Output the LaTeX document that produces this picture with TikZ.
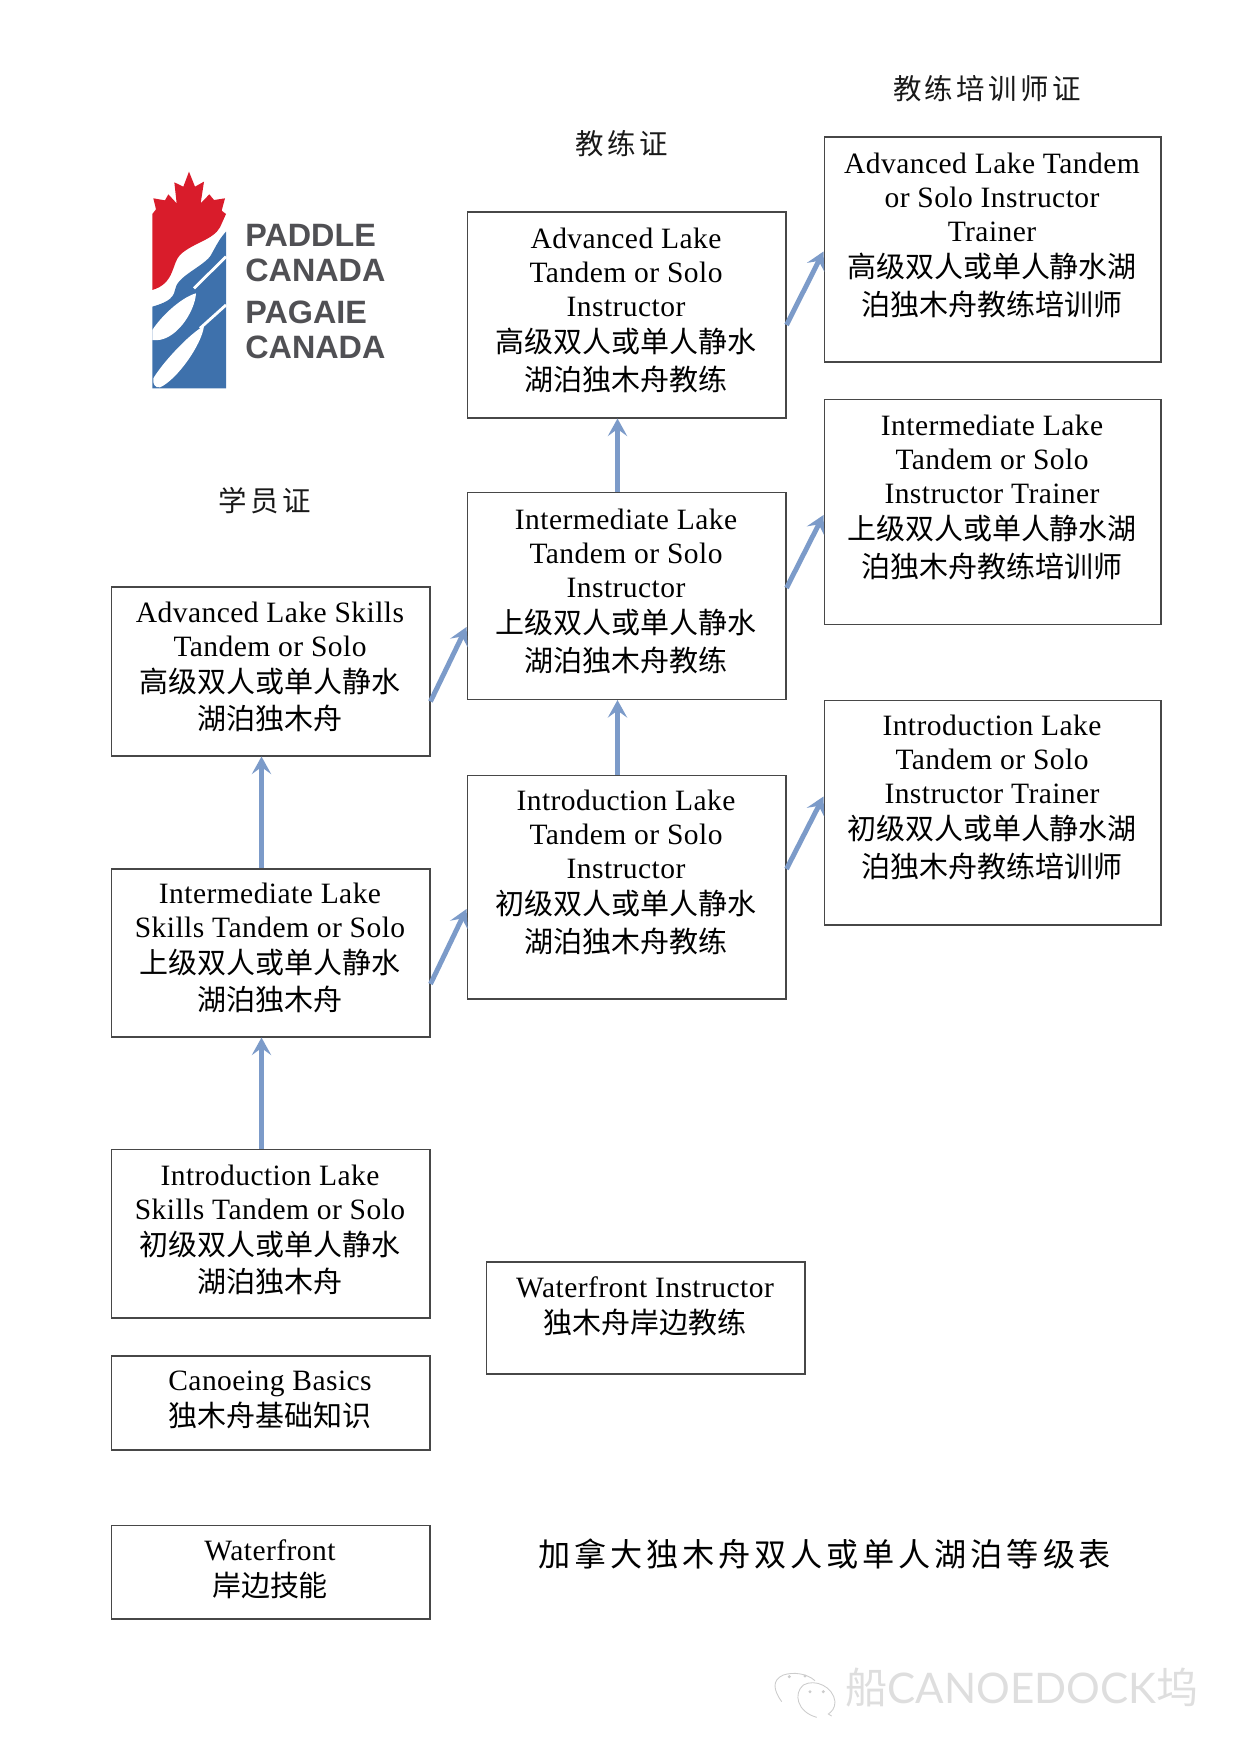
\documentclass[tikz,border=0pt]{standalone}
\usepackage{fontspec}
\setmainfont{Liberation Serif}[LetterSpace=1.5]
\setsansfont{Liberation Sans}
\newfontfamily\cjk{Noto Sans CJK SC}
\newfontfamily\cjkwide{Noto Sans CJK SC}[LetterSpace=12]
\newfontfamily\markfont{Lato}
\usetikzlibrary{arrows.meta,calc}
\newcommand{\zh}[1]{{\cjk\fontsize{16.5}{21.5}\selectfont #1}}
\definecolor{flowblue}{RGB}{124,155,201}
\definecolor{logored}{RGB}{217,28,43}
\definecolor{logoblue}{RGB}{62,113,172}
\definecolor{logogray}{RGB}{80,80,84}
\tikzset{
  coursebox/.style={draw=black!72,line width=0.6pt,inner sep=0pt},
  leftbox/.style={coursebox,minimum width=6.38cm},
  rightbox/.style={coursebox,minimum width=6.74cm,minimum height=4.5cm},
  coursetext/.style={align=center,inner sep=0pt,font=\fontsize{16.8}{19.4}\selectfont},
  headtext/.style={inner sep=0pt,font=\cjkwide\fontsize{16.2}{18}\selectfont,text=black!90},
  logotext/.style={anchor=west,inner sep=0pt,font=\sffamily\bfseries\fontsize{18.4}{20}\selectfont,text=logogray},
  flowarrow/.style={-{Stealth[length=10pt,width=11pt,inset=4pt]},flowblue,line width=2.8pt}
}
\begin{document}
\begin{tikzpicture}[x=0.02cm,y=-0.02cm]
\useasboundingbox (0,0) rectangle (1240,1753);

% logo
\begin{scope}[shift={(120,140)},scale=1/3]
\fill[logored] (97,450) -- (97,222) -- (108,208) -- (100,175) -- (135,181) -- (145,163) -- (170,190)
  -- (163,127) -- (190,140) -- (207,95) -- (225,140) -- (252,125) -- (242,190) -- (268,163)
  -- (282,180) -- (315,175) -- (305,212) -- (318,222) -- (300,262)
  .. controls (280,300) and (215,310) .. (180,345)
  .. controls (155,370) and (165,430) .. (97,450) -- cycle;
\fill[logoblue] (318,275) -- (318,745) -- (97,745) -- (97,500)
  .. controls (130,490) and (160,480) .. (165,450)
  .. controls (170,410) and (240,385) .. (270,350)
  .. controls (285,325) and (295,300) .. (318,275) -- cycle;
\draw[white,line width=1.6pt] (318,350) -- (222,445);
\draw[white,line width=1.6pt] (318,495) -- (240,565);
\fill[white] (97,570) .. controls (130,520) and (190,470) .. (228,460)
  .. controls (225,515) and (165,610) .. (97,600) -- cycle;
\fill[white] (100,715) .. controls (130,665) and (210,580) .. (252,558)
  .. controls (245,615) and (170,720) .. (120,742)
  .. controls (105,745) and (97,730) .. (100,715) -- cycle;
\end{scope}
\node[logotext] (paddle) at (245,235) {PADDLE};
\node[logotext] (canadaen) at (245,270) {CANADA};
\node[logotext] (pagaie) at (245,312) {PAGAIE};
\node[logotext] (canadafr) at (245,347) {CANADA};

% column headings
\node[headtext] (headtrainer) at (987,89) {教练培训师证};
\node[headtext] (headinstr) at (622,144) {教练证};
\node[headtext] (headstudent) at (265,501) {学员证};

% student column
\node[leftbox,minimum height=3.38cm] (advskills) at (270.5,671.5) {};
\node[leftbox,minimum height=3.36cm] (interskills) at (270.5,953) {};
\node[leftbox,minimum height=3.38cm] (introskills) at (270.5,1233.5) {};
\node[leftbox,minimum height=1.88cm] (basics) at (270.5,1403) {};
\node[leftbox,minimum height=1.88cm] (waterfront) at (270.5,1572) {};

\node[coursetext] (advskillstext) at (270,667) {Advanced Lake Skills\\Tandem or Solo\\[1.2pt]\zh{高级双人或单人静水}\\[2pt]\zh{湖泊独木舟}};
\node[coursetext] (interskillstext) at (270,948) {Intermediate Lake\\Skills Tandem or Solo\\[1.2pt]\zh{上级双人或单人静水}\\[2pt]\zh{湖泊独木舟}};
\node[coursetext] (introskillstext) at (270,1230) {Introduction Lake\\Skills Tandem or Solo\\[1.2pt]\zh{初级双人或单人静水}\\[2pt]\zh{湖泊独木舟}};
\node[coursetext] (basicstext) at (270,1400) {Canoeing Basics\\[1.2pt]\zh{独木舟基础知识}};
\node[coursetext] (waterfronttext) at (270,1569) {Waterfront\\[1.2pt]\zh{岸边技能}};

% instructor column
\node[leftbox,minimum height=4.12cm] (advinstr) at (626.5,315) {};
\node[leftbox,minimum height=4.14cm] (interinstr) at (626.5,596) {};
\node[leftbox,minimum height=4.48cm] (introinstr) at (626.5,887) {};
\node[leftbox,minimum height=2.24cm] (waterinstr) at (645.5,1318) {};

\node[coursetext] (advinstrtext) at (626,310) {Advanced Lake\\Tandem or Solo\\Instructor\\[1.2pt]\zh{高级双人或单人静水}\\[2pt]\zh{湖泊独木舟教练}};
\node[coursetext] (interinstrtext) at (626,591) {Intermediate Lake\\Tandem or Solo\\Instructor\\[1.2pt]\zh{上级双人或单人静水}\\[2pt]\zh{湖泊独木舟教练}};
\node[coursetext] (introinstrtext) at (626,872) {Introduction Lake\\Tandem or Solo\\Instructor\\[1.2pt]\zh{初级双人或单人静水}\\[2pt]\zh{湖泊独木舟教练}};
\node[coursetext] (waterinstrtext) at (645,1306) {Waterfront Instructor\\[1.2pt]\zh{独木舟岸边教练}};

% trainer column
\node[rightbox] (advtrainer) at (992.5,249.5) {};
\node[rightbox] (intertrainer) at (992.5,512) {};
\node[rightbox] (introtrainer) at (992.5,812.5) {};

\node[coursetext] (advtrainertext) at (992,235) {Advanced Lake Tandem\\or Solo Instructor\\Trainer\\[1.2pt]\zh{高级双人或单人静水湖}\\[2pt]\zh{泊独木舟教练培训师}};
\node[coursetext] (intertrainertext) at (992,497) {Intermediate Lake\\Tandem or Solo\\Instructor Trainer\\[1.2pt]\zh{上级双人或单人静水湖}\\[2pt]\zh{泊独木舟教练培训师}};
\node[coursetext] (introtrainertext) at (992,797) {Introduction Lake\\Tandem or Solo\\Instructor Trainer\\[1.2pt]\zh{初级双人或单人静水湖}\\[2pt]\zh{泊独木舟教练培训师}};

% progression arrows
\draw[flowarrow] ($(introskills.north)+(-9,0)$) -- ($(interskills.south)+(-9,0)$);
\draw[flowarrow] ($(interskills.north)+(-9,0)$) -- ($(advskills.south)+(-9,0)$);
\draw[flowarrow] ($(introinstr.north)+(-9,0)$) -- ($(interinstr.south)+(-9,0)$);
\draw[flowarrow] ($(interinstr.north)+(-9,0)$) -- ($(advinstr.south)+(-9,0)$);
\draw[flowarrow] ($(advskills.east)+(0,30)$) -- ($(interinstr.west)+(0,31)$);
\draw[flowarrow] ($(interskills.east)+(0,31)$) -- ($(introinstr.west)+(0,22)$);
\draw[flowarrow] ($(advinstr.east)+(0,10)$) -- ($(advtrainer.west)+(0,2)$);
\draw[flowarrow] ($(interinstr.east)+(0,-8)$) -- ($(intertrainer.west)+(0,3)$);
\draw[flowarrow] ($(introinstr.east)+(0,-18)$) -- ($(introtrainer.west)+(0,-16)$);

% title
\node[inner sep=0pt,font=\cjkwide\fontsize{18.3}{20}\selectfont] (charttitle) at (825,1554) {加拿大独木舟双人或单人湖泊等级表};

% account mark at the foot of the page
\begin{scope}[shift={(760,1640)},scale=1/3,black!20,line width=0.5pt]
\draw (65,185) .. controls (40,150) and (35,120) .. (70,105) .. controls (100,95) and (140,100) .. (165,122);
\draw (170,232) .. controls (110,215) and (100,160) .. (130,135) .. controls (165,115) and (220,140) .. (225,185) .. controls (225,205) and (215,215) .. (205,222) -- (215,228);
\fill (88,110) circle (5) (135,108) circle (5) (150,155) circle (5) (190,155) circle (5);
\end{scope}
\node[inner sep=0pt,text=black!13,font=\markfont\fontsize{24}{28}\selectfont] (markname) at (1022,1688) {{\cjk 船}CANOEDOCK{\cjk 坞}};
\end{tikzpicture}
\end{document}
